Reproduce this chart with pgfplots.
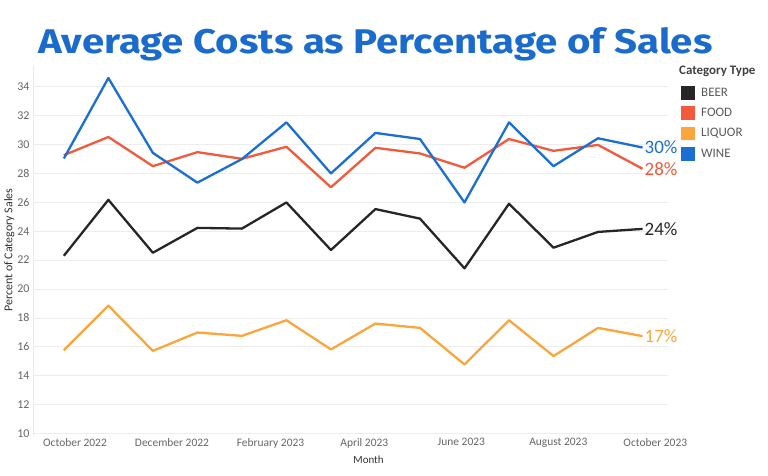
\documentclass[border=0pt]{standalone}
\usepackage{fontspec}
\setmainfont{Carlito}
\newfontfamily\titlefont{Fira Sans}
\usepackage{pgfplots}
\pgfplotsset{compat=1.18}
\definecolor{beer}{HTML}{262626}
\definecolor{food}{HTML}{F15A3A}
\definecolor{liquor}{HTML}{FBA63C}
\definecolor{wine}{HTML}{1B6FD2}
\definecolor{titleblue}{HTML}{1A6BCB}
\begin{document}
\begin{tikzpicture}
\begin{axis}[name=ax, scale only axis, width=635bp, height=370bp, clip=false,
  xmin=-26.4, xmax=373, ymin=9.9, ymax=35.5,
  axis x line*=bottom, axis y line*=left, axis line style={-},
  x axis line style={draw=none}, y axis line style={draw=black!8, line width=0.8bp},
  ytick={10,12,...,34},
  xtick={0,61,123,182,243,304,365},
  xticklabels={October 2022,December 2022,February 2023,April 2023,June 2023,August 2023,October 2023},
  major tick length=0pt, tick style={draw=none},
  ymajorgrids, grid style={draw=black!7, line width=0.8bp},
  xticklabel style={font=\fontsize{11.5}{13}\selectfont, text=black!60},
  yticklabel style={font=\fontsize{12}{13}\selectfont, text=black!60},
  /pgf/number format/assume math mode=true,
  xlabel={Month}, ylabel={Percent of Category Sales},
  label style={font=\fontsize{11}{13}\selectfont, text=black!80},
  ylabel style={font=\fontsize{12}{13}\selectfont},
  ylabel shift=-4bp,
  xlabel style={xshift=18bp, yshift=-1bp},
  legend style={at={(1,1)}, anchor=north west, xshift=13bp, yshift=-21bp, draw=none, fill=none,
    inner sep=0pt, row sep=6.8bp, font=\fontsize{13}{15}\selectfont, text=black!65,
    nodes={inner sep=1.5bp}, /tikz/every odd column/.append style={column sep=5bp}},
  legend cell align=left,
  legend image code/.code={\fill[#1, draw=none] (0bp,-7bp) rectangle (13.5bp,6.5bp);},
  every axis plot/.append style={line width=2.3bp, line join=round},
]
\addplot[color=beer] coordinates {(-7,22.3) (21,26.17) (49,22.51) (77,24.23) (105,24.18) (133,25.99) (161,22.7) (189,25.53) (217,24.87) (245,21.43) (273,25.9) (301,22.86) (329,23.95) (357,24.16)}
  node[pos=1, anchor=west, xshift=0bp, inner sep=1bp, font=\fontsize{19}{21}\selectfont, text=beer] {24\%};
\addlegendentry{BEER}
\addplot[color=food] coordinates {(-7,29.26) (21,30.52) (49,28.5) (77,29.47) (105,29.01) (133,29.84) (161,27.04) (189,29.77) (217,29.38) (245,28.39) (273,30.38) (301,29.56) (329,29.97) (357,28.32)}
  node[pos=1, anchor=west, xshift=0bp, inner sep=1bp, font=\fontsize{19}{21}\selectfont, text=food] {28\%};
\addlegendentry{FOOD}
\addplot[color=liquor] coordinates {(-7,15.77) (21,18.85) (49,15.72) (77,16.99) (105,16.76) (133,17.84) (161,15.82) (189,17.61) (217,17.31) (245,14.78) (273,17.84) (301,15.36) (329,17.31) (357,16.74)}
  node[pos=1, anchor=west, xshift=0bp, inner sep=1bp, font=\fontsize{19}{21}\selectfont, text=liquor] {17\%};
\addlegendentry{LIQUOR}
\addplot[color=wine] coordinates {(-7,29.03) (21,34.6) (49,29.42) (77,27.36) (105,28.99) (133,31.53) (161,28.0) (189,30.8) (217,30.38) (245,25.99) (273,31.53) (301,28.5) (329,30.43) (357,29.79)}
  node[pos=1, anchor=west, xshift=0bp, inner sep=1bp, font=\fontsize{19}{21}\selectfont, text=wine] {30\%};
\addlegendentry{WINE}
\end{axis}
\node[anchor=north west, inner sep=0pt, font=\bfseries\fontsize{13}{15}\selectfont, text=black!75]
  at ([xshift=11bp, yshift=-1bp]ax.north east) {Category Type};
\node[anchor=base west, inner sep=0pt, text=titleblue]
  at ([xshift=5bp, yshift=11bp]ax.north west) {\resizebox{674bp}{26bp}{\titlefont\bfseries Average Costs as Percentage of Sales}};
\pgfresetboundingbox
\path ([xshift=-33bp,yshift=-41bp]ax.south west) rectangle ([xshift=100bp,yshift=65bp]ax.north east);
\end{tikzpicture}
\end{document}
